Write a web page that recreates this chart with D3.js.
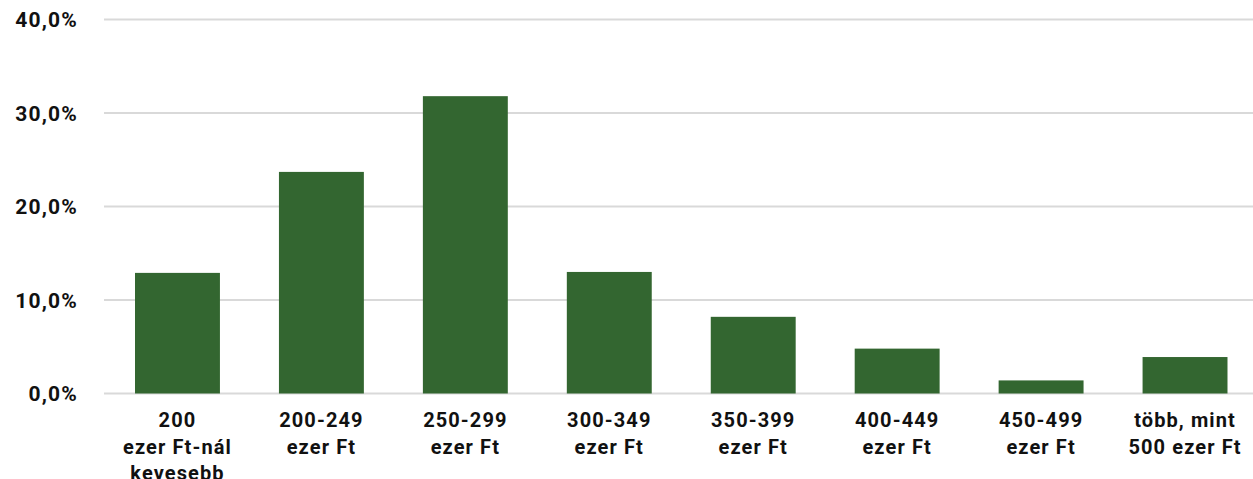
<!DOCTYPE html>
<html><head><meta charset="utf-8">
<script src="https://cdn.jsdelivr.net/npm/d3@7"></script>
<style>body{margin:0;background:#fff;} svg{display:block;}</style>
</head><body>
<svg id="chart" width="1253" height="479"></svg>
<script>
const categories = [
  ["200","ezer Ft-nál","kevesebb"],
  ["200-249","ezer Ft"],
  ["250-299","ezer Ft"],
  ["300-349","ezer Ft"],
  ["350-399","ezer Ft"],
  ["400-449","ezer Ft"],
  ["450-499","ezer Ft"],
  ["több, mint","500 ezer Ft"]
];
const values = [12.9, 23.7, 31.8, 13.0, 8.2, 4.8, 1.4, 3.9];
const yTicks = [0, 10, 20, 30, 40];

const svg = d3.select("#chart");
const font = "Roboto, 'DejaVu Sans', sans-serif";
const x = d3.scaleBand().domain(d3.range(categories.length)).range([105.5, 1257]).paddingInner(0.41).paddingOuter(0.205);
const y = d3.scaleLinear().domain([0, 40]).range([393.5, 19.5]);

// gridlines
svg.append("g").selectAll("line").data(yTicks).join("line")
  .attr("x1", 104).attr("x2", 1253)
  .attr("y1", d => y(d)).attr("y2", d => y(d))
  .attr("stroke", "#d9d9d9").attr("stroke-width", 2);

// y labels
svg.append("g").selectAll("text").data(yTicks).join("text")
  .attr("x", 78).attr("y", d => y(d) + 7.5)
  .attr("text-anchor", "end")
  .attr("font-family", font).attr("font-weight", "bold").attr("font-size", 21)
  .attr("letter-spacing", 1.2)
  .attr("fill", "#111")
  .text(d => d.toFixed(1).replace(".", ",") + "%");

// bars
svg.append("g").selectAll("rect").data(values).join("rect")
  .attr("x", (d, i) => x(i)).attr("width", x.bandwidth())
  .attr("y", d => y(d)).attr("height", d => y(0) - y(d))
  .attr("fill", "#336630");

// x labels
const xl = svg.append("g").selectAll("text").data(categories).join("text")
  .attr("text-anchor", "middle")
  .attr("font-family", font).attr("font-weight", "bold").attr("font-size", 20)
  .attr("letter-spacing", 1.1)
  .attr("fill", "#111")
  .attr("transform", (d, i) => `translate(${x(i) + x.bandwidth()/2},427)`);
xl.selectAll("tspan").data(d => d).join("tspan")
  .attr("x", 0).attr("y", (d, j) => j * 26.5)
  .text(d => d);
</script>
</body></html>
